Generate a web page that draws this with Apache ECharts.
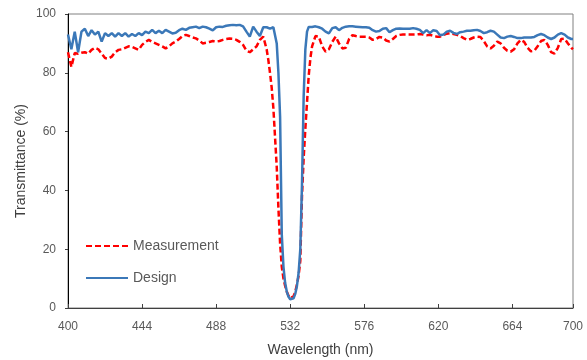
<!DOCTYPE html>
<html>
<head>
<meta charset="utf-8">
<script src="https://cdn.jsdelivr.net/npm/echarts@6/dist/echarts.min.js"></script>
<style>
  html, body { margin: 0; padding: 0; background: #fff; }
  #chart { width: 587px; height: 360px; }
</style>
</head>
<body>
<div id="chart"></div>
<script>
// transmittance spectrum, design vs measurement
const wavelengths = [
  400,402,404,406,408,410,412,414,416,418,420,422,424,426,428,430,432,434,436,438,
  440,442,444,446,448,450,452,454,456,458,460,462,464,466,468,470,472,474,476,478,
  480,482,484,486,488,490,492,494,496,498,500,502,504,506,508,510,512,514,516,518,
  519,520,521,522,523,524,525,526,527,528,529,530,531,532,533,534,535,536,537,538,
  539,540,541,542,543,544,545,
  547,549,551,553,555,557,559,561,563,565,567,569,571,573,575,577,579,581,583,585,
  587,589,591,593,595,597,599,601,603,605,607,609,611,613,615,617,619,621,623,625,
  627,629,631,633,635,637,639,641,643,645,647,649,651,653,655,657,659,661,663,665,
  667,669,671,673,675,677,679,681,683,685,687,689,691,693,695,697,699,700
];

const measurement = [
  87,82,86.7,86.5,86.8,87,86.5,87.8,88.5,88,86.5,85,84.8,85.5,87,87.8,88,88.5,89,88.8,
  88.3,87.8,89.5,90.5,91.2,90.5,90,89.5,89,88.3,89,90,90.6,91.5,92.5,92.9,92.5,92,91.7,91,
  90,90.2,90.5,90.8,90.6,90.8,91.2,91.5,91.7,91.6,91.2,90.5,89.5,87.5,87,88,89,91.2,92.3,88,
  84.4,80,75,68,58,48,34,22,14,10,7.5,5.5,4.2,3.4,3.4,4,5.5,8,11,16,
  38,51,61,70,79,85,89,
  92.5,92.3,89,87.2,88,90.5,92.3,90,88.3,88.5,91.5,92.8,92.5,92.3,92.3,92.3,92,91.2,91.5,92.2,
  92,91,90.6,91.5,92.5,92.9,93,93,93,93,93,93.2,93,92.8,92.9,92.6,92.3,92.3,92.8,93.3,
  93.5,93.2,92.9,92.5,91.8,91.2,91.5,92,92.3,92.2,90.8,89,88.3,89.2,90.6,90,88.5,87.5,87.2,88,
  90,91.2,90.5,88.5,87.3,87.5,89,90.8,91.2,89.5,87,86.5,88.5,91.5,91.6,90,88.5,88
];

const design = [
  93,88,94,87,94,95,92.5,94.5,93,94,90.6,93.5,92.5,93.5,92.3,93.5,92.5,93.5,92.3,93.2,
  92.5,93.5,92.8,94,93.5,94.6,93.5,94.3,93.5,94.6,94,93.4,93.6,94.5,95,94.6,95.3,95.5,95.7,95.2,
  95.7,95.5,95,94.4,95.5,95.7,95.6,96,96.2,96.3,96.2,96.3,95.8,94,92.3,95.7,94,92.5,95.5,95.5,
  96,95,94.6,95.5,96,90,80,65,25,14,8.5,5.5,3.8,3,2.8,3.3,4.8,7.5,12,20,
  42,72,88,94,95.6,95.8,95.6,
  95.8,95.5,95,94,93.4,95.2,95.5,94.5,95.3,95.7,95.8,95.8,95.7,95.6,95.5,95.5,95.3,94.5,94,94.2,
  95,95.2,93.8,94.5,95,95.1,95,95,95,95.2,95,94.6,93.5,94.5,93.5,94.5,94.2,92.8,93,94,
  94.3,93.6,93.2,93.8,94,94.3,94.3,94.5,94.6,94.2,93.5,93.8,94.3,94,93,92,91.8,92.3,92.5,92.2,
  91.8,91.8,92,92,92,92.2,92.8,93.2,92.8,92,91.5,92,93,93.5,93,92,91.5,91.5
];

const seriesNames = ['Measurement', 'Design'];

const pairs = (ys) => wavelengths.map((x, i) => [x, ys[i]]);

const myChart = echarts.init(document.getElementById('chart'));
const labelStyle = { color: '#595959', fontSize: 12, fontFamily: 'Liberation Sans' };
const titleStyle = { color: '#404040', fontSize: 14, fontFamily: 'Liberation Sans' };

myChart.setOption({
  animation: false,
  grid: {
    left: 68, right: 14, top: 14, bottom: 52,
    outerBoundsMode: 'none',
    show: true, borderColor: '#808080', borderWidth: 1
  },
  legend: {
    data: seriesNames,
    orient: 'vertical',
    left: 80, top: 234,
    itemWidth: 42, itemHeight: 14, itemGap: 18,
    itemStyle: { opacity: 0 },
    textStyle: { color: '#595959', fontSize: 14, fontFamily: 'Liberation Sans' }
  },
  xAxis: {
    type: 'value',
    min: 400, max: 700, interval: 44,
    name: 'Wavelength (nm)',
    nameLocation: 'middle', nameGap: 35,
    nameTextStyle: titleStyle,
    axisLine: { lineStyle: { color: '#404040', width: 1 } },
    axisTick: { inside: true, length: 4, lineStyle: { color: '#404040' } },
    axisLabel: Object.assign({ margin: 13 }, labelStyle),
    splitLine: { show: false }
  },
  yAxis: {
    type: 'value',
    min: 0, max: 100, interval: 20,
    name: 'Transmittance (%)',
    nameLocation: 'middle', nameGap: 40,
    nameMoveOverlap: false,
    nameTextStyle: titleStyle,
    axisLine: { show: true, lineStyle: { color: '#000', width: 1 } },
    axisTick: { show: true, length: 3, lineStyle: { color: '#404040' } },
    axisLabel: Object.assign({ margin: 12 }, labelStyle),
    splitLine: { show: false }
  },
  series: [
    {
      name: seriesNames[0],
      type: 'line',
      data: pairs(measurement),
      symbol: 'none',
      color: '#FF0000',
      lineStyle: { width: 2.5, type: [6, 3] }
    },
    {
      name: seriesNames[1],
      type: 'line',
      data: pairs(design),
      symbol: 'none',
      color: '#3B78B8',
      lineStyle: { width: 2.5 }
    }
  ]
});
</script>
</body>
</html>
